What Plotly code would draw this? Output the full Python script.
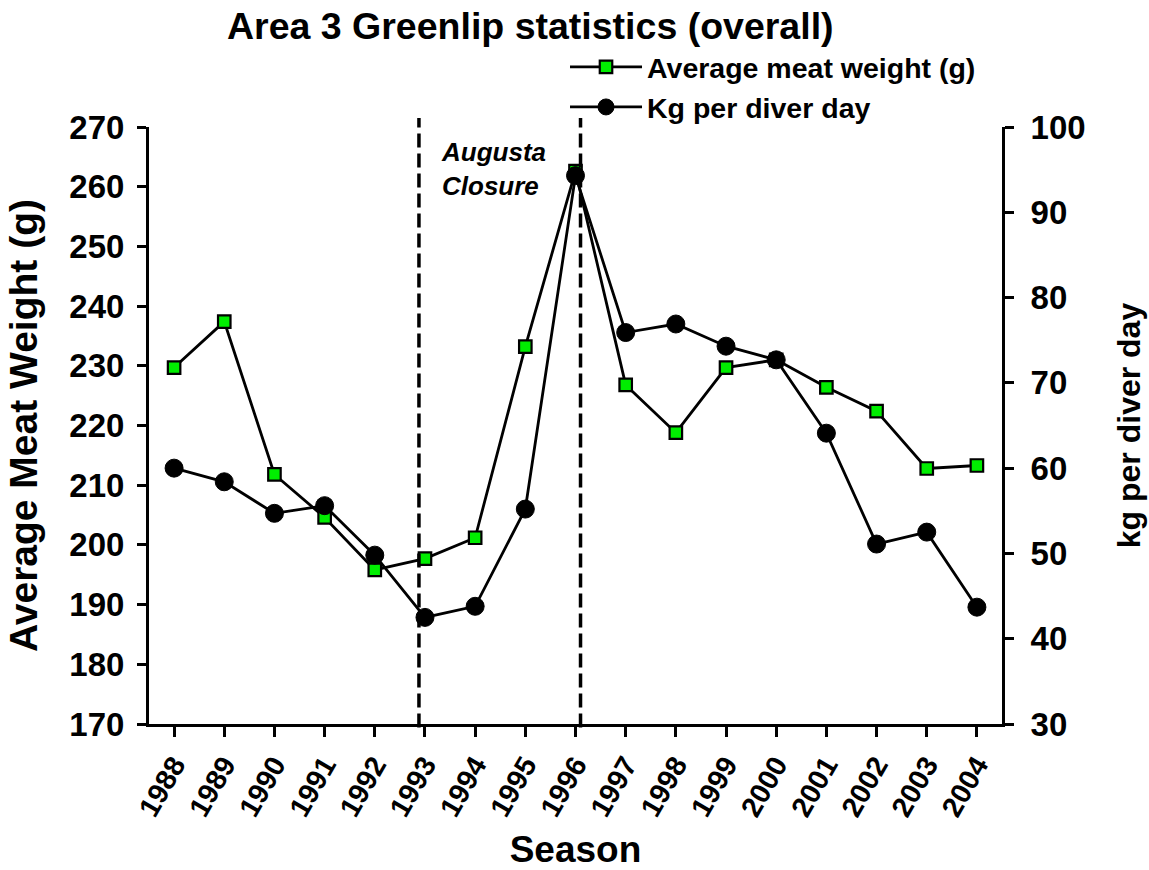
import plotly.graph_objects as go

# ---- data ----
seasons = [1988, 1989, 1990, 1991, 1992, 1993, 1994, 1995, 1996,
           1997, 1998, 1999, 2000, 2001, 2002, 2003, 2004]
season_labels = [str(s) for s in seasons]
meat_weight = [229.7, 237.4, 211.8, 204.6, 195.8, 197.7, 201.2, 233.2, 262.6,
               226.8, 218.8, 229.7, 231.0, 226.4, 222.4, 212.8, 213.3]
kg_per_day = [60.0, 58.4, 54.7, 55.6, 49.8, 42.5, 43.8, 55.2, 94.3,
              75.9, 76.9, 74.3, 72.7, 64.1, 51.1, 52.5, 43.7]
closure_lines = [1992.88, 1996.1]
left_ticks = list(range(170, 271, 10))
right_ticks = list(range(30, 101, 10))

FONT = "Liberation Sans, Arial, sans-serif"
BLACK = "black"

fig = go.Figure()
fig.add_trace(go.Scatter(
    x=seasons, y=meat_weight, name="Average meat weight (g)",
    mode="lines+markers",
    line=dict(color=BLACK, width=2.8),
    marker=dict(symbol="square", size=12.5, color="#00ee00",
                line=dict(color=BLACK, width=2.2)),
    yaxis="y"))
fig.add_trace(go.Scatter(
    x=seasons, y=kg_per_day, name="Kg per diver day",
    mode="lines+markers",
    line=dict(color=BLACK, width=2.8),
    marker=dict(symbol="circle", size=18, color=BLACK,
                line=dict(color=BLACK, width=1)),
    yaxis="y2"))

for xv in closure_lines:
    fig.add_shape(type="line", xref="x", yref="paper",
                  x0=xv, x1=xv, y0=-0.006, y1=1.015,
                  line=dict(color=BLACK, width=3.5, dash="14px,6px"))

fig.add_annotation(x=1993.28, y=262.9, xref="x", yref="y",
                   text="Augusta<br>Closure", showarrow=False,
                   xanchor="left", yanchor="middle", align="left",
                   font=dict(family=FONT, size=26, color=BLACK,
                             weight="bold", style="italic"))

fig.update_layout(
    width=1149, height=870,
    margin=dict(l=149, r=147, t=127, b=146, autoexpand=False),
    paper_bgcolor="white", plot_bgcolor="white",
    font=dict(family=FONT, color=BLACK, weight="bold"),
    title=dict(text="Area 3 Greenlip statistics (overall)",
               xref="paper", x=0.447, xanchor="center",
               yref="container", y=0.970, yanchor="middle",
               font=dict(family=FONT, size=37.5, color=BLACK, weight="bold")),
    showlegend=True,
    legend=dict(x=0.4877, y=1.1426, xanchor="left", yanchor="top",
                itemwidth=72,
                bgcolor="rgba(0,0,0,0)", tracegroupgap=0,
                font=dict(family=FONT, size=28.5, color=BLACK, weight="bold")),
    xaxis=dict(range=[1987.5, 2004.5], tickmode="array",
               tickvals=seasons, ticktext=season_labels, tickangle=-60,
               ticks="outside", ticklen=10, tickwidth=3, tickcolor=BLACK,
               showline=True, linecolor=BLACK, linewidth=3,
               showgrid=False, zeroline=False,
               tickfont=dict(family=FONT, size=28.5, color=BLACK, weight="bold"),
               title=dict(text="Season", standoff=18,
                          font=dict(family=FONT, size=37, color=BLACK, weight="bold"))),
    yaxis=dict(range=[170, 270], tickmode="array", tickvals=left_ticks,
               ticks="outside", ticklen=9, tickwidth=3, tickcolor=BLACK,
               ticklabelstandoff=6,
               showline=True, linecolor=BLACK, linewidth=3,
               showgrid=False, zeroline=False,
               tickfont=dict(family=FONT, size=33, color=BLACK, weight="bold"),
               title=dict(text="Average Meat Weight (g)", standoff=20,
                          font=dict(family=FONT, size=39, color=BLACK, weight="bold"))),
    yaxis2=dict(range=[30, 100], tickmode="array", tickvals=right_ticks,
                overlaying="y", side="right",
                ticks="outside", ticklen=9, tickwidth=3, tickcolor=BLACK,
                ticklabelstandoff=10,
                showline=True, linecolor=BLACK, linewidth=3,
                showgrid=False, zeroline=False,
                tickfont=dict(family=FONT, size=33, color=BLACK, weight="bold"),
                title=dict(text="kg per diver day", standoff=33,
                           font=dict(family=FONT, size=32, color=BLACK, weight="bold"))),
)

fig.write_html("out.html",
               config={"displayModeBar": False},
               post_script="document.body.style.margin='0';")
